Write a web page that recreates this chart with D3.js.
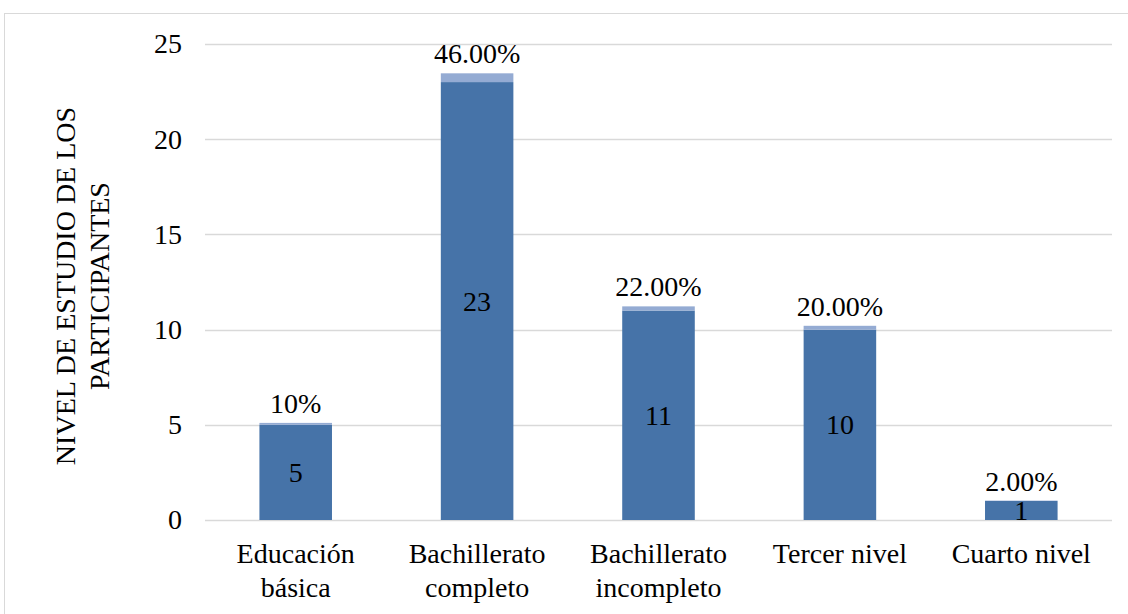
<!DOCTYPE html>
<html>
<head>
<meta charset="utf-8">
<script src="https://cdn.jsdelivr.net/npm/d3@7"></script>
<style>
  html, body { margin: 0; padding: 0; background: #fff; }
  svg { display: block; font-family: "Liberation Serif", "Times New Roman", serif; }
</style>
</head>
<body>
<svg id="chart" width="1128" height="614"></svg>
<script>
// Education level of participants: counts plus share of total
const categories = [["Educación", "básica"], ["Bachillerato", "completo"], ["Bachillerato", "incompleto"], ["Tercer nivel"], ["Cuarto nivel"]];
const counts = [5, 23, 11, 10, 1];
const shares = [0.10, 0.46, 0.22, 0.20, 0.02];
const shareLabels = ["10%", "46.00%", "22.00%", "20.00%", "2.00%"];
const yTicks = [0, 5, 10, 15, 20, 25];
const yTitle = ["NIVEL DE ESTUDIO DE LOS", "PARTICIPANTES"];

const FS = 28;
const svg = d3.select("#chart");

// outer chart frame
svg.append("rect")
  .attr("x", 4.5).attr("y", 13.5)
  .attr("width", 1140).attr("height", 620)
  .attr("fill", "none").attr("stroke", "#d9d9d9").attr("stroke-width", 1);

const plot = { left: 205, right: 1112, top: 44, bottom: 520 };

const x = d3.scaleBand()
  .domain(d3.range(categories.length))
  .range([plot.left, plot.right])
  .paddingInner(0.6).paddingOuter(0.3);

const y = d3.scaleLinear().domain([0, 25]).range([plot.bottom, plot.top]);

// gridlines
svg.append("g")
  .selectAll("line")
  .data(yTicks)
  .join("line")
  .attr("x1", plot.left).attr("x2", plot.right)
  .attr("y1", d => Math.round(y(d)) + 0.5).attr("y2", d => Math.round(y(d)) + 0.5)
  .attr("stroke", "#d9d9d9").attr("stroke-width", 1.5);

// y axis labels
const yAxis = d3.axisLeft(y).tickValues(yTicks).tickSize(0).tickPadding(0);
const yg = svg.append("g").attr("transform", `translate(182,0)`).call(yAxis);
yg.select(".domain").remove();
yg.selectAll("text")
  .attr("font-family", "Liberation Serif, serif")
  .attr("dy", "0.32em")
  .attr("font-size", FS).attr("fill", "#000");

// y axis title
const ty = svg.append("text")
  .attr("transform", "rotate(-90)")
  .attr("text-anchor", "middle")
  .attr("font-size", FS).attr("fill", "#000");
yTitle.forEach((line, i) => {
  ty.append("tspan")
    .attr("x", -286)
    .attr("y", 75 + i * 34)
    .text(line);
});

const data = counts.map((c, i) => ({ i, count: c, share: shares[i], label: shareLabels[i] }));

// bars: count segment then share segment stacked on top
const bars = svg.append("g");
bars.selectAll("rect.count")
  .data(data)
  .join("rect")
  .attr("class", "count")
  .attr("x", d => x(d.i)).attr("width", x.bandwidth())
  .attr("y", d => y(d.count)).attr("height", d => y(0) - y(d.count))
  .attr("fill", "#4673a8");
bars.selectAll("rect.share")
  .data(data)
  .join("rect")
  .attr("class", "share")
  .attr("x", d => x(d.i)).attr("width", x.bandwidth())
  .attr("y", d => y(d.count + d.share)).attr("height", d => y(d.count) - y(d.count + d.share))
  .attr("fill", "#94abd3");

// count labels centered in the segment
svg.append("g").selectAll("text")
  .data(data)
  .join("text")
  .attr("x", d => x(d.i) + x.bandwidth() / 2)
  .attr("y", d => y(d.count / 2))
  .attr("dy", "0.34em")
  .attr("text-anchor", "middle")
  .attr("font-size", FS).attr("fill", "#000")
  .text(d => d.count);

// share labels above the stack
svg.append("g").selectAll("text")
  .data(data)
  .join("text")
  .attr("x", d => x(d.i) + x.bandwidth() / 2)
  .attr("y", d => y(d.count + d.share) - 10)
  .attr("text-anchor", "middle")
  .attr("font-size", FS).attr("fill", "#000")
  .text(d => d.label);

// category labels
const xl = svg.append("g").selectAll("text")
  .data(categories)
  .join("text")
  .attr("text-anchor", "middle")
  .attr("font-size", FS).attr("fill", "#000");
xl.each(function(lines, i) {
  lines.forEach((ln, k) => {
    d3.select(this).append("tspan")
      .attr("x", x(i) + x.bandwidth() / 2)
      .attr("y", 563 + k * 34)
      .text(ln);
  });
});
</script>
</body>
</html>
